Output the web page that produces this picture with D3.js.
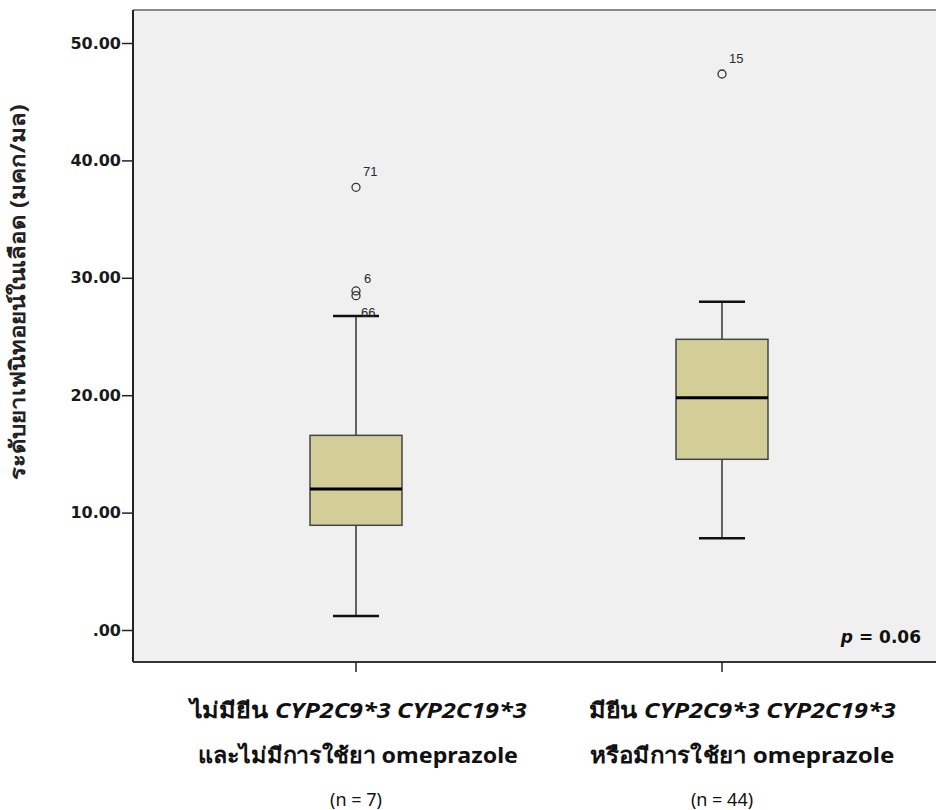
<!DOCTYPE html>
<html>
<head>
<meta charset="utf-8">
<script src="https://cdnjs.cloudflare.com/ajax/libs/d3/7.8.5/d3.min.js"></script>
<style>
  body { margin: 0; background: #fff; }
  svg { display: block; }
</style>
</head>
<body>
<script>
// group keys and box statistics
const groups = ["noVariant", "variant"];
const q1 = [8.92, 14.54];
const medians = [12.01, 19.79];
const q3 = [16.58, 24.76];
const whiskerLow = [1.19, 7.81];
const whiskerHigh = [26.75, 27.96];

const outlierGroup = ["noVariant", "noVariant", "noVariant", "variant"];
const outlierValue = [37.71, 28.88, 28.48, 47.36];
const outlierLabel = ["71", "6", "66", "15"];

const yTicks = [0, 10, 20, 30, 40, 50];

const w = 936;
const h = 810;

const y = d3.scaleLinear()
  .domain([0, 50])
  .range([630, 43]);

const x = d3.scaleBand()
  .domain(groups)
  .range([173, 905]);

const svg = d3.select("body")
  .append("svg")
  .attr("width", w)
  .attr("height", h);

// plot area
const plotLeft = 133, plotTop = 10, plotBottom = 662;
svg.append("rect")
  .attr("x", plotLeft)
  .attr("y", plotTop)
  .attr("width", w - plotLeft + 5)
  .attr("height", plotBottom - plotTop)
  .attr("fill", "#f0f0f0");
svg.append("line")
  .attr("x1", plotLeft).attr("x2", w)
  .attr("y1", plotTop).attr("y2", plotTop)
  .attr("stroke", "#8a8a8a").attr("stroke-width", 2);
svg.append("line")
  .attr("x1", plotLeft).attr("x2", plotLeft)
  .attr("y1", plotTop).attr("y2", plotBottom)
  .attr("stroke", "#222").attr("stroke-width", 2);
svg.append("line")
  .attr("x1", plotLeft).attr("x2", w)
  .attr("y1", plotBottom).attr("y2", plotBottom)
  .attr("stroke", "#333").attr("stroke-width", 2);

// y axis
const yAxis = d3.axisLeft(y)
  .tickValues(yTicks)
  .tickSize(11)
  .tickPadding(1)
  .tickFormat(d => d === 0 ? ".00" : d3.format(".2f")(d));
const ya = svg.append("g")
  .attr("transform", `translate(${plotLeft},0)`)
  .call(yAxis);
ya.select(".domain").remove();
ya.selectAll("line").attr("stroke", "#222").attr("stroke-width", 1.5);
ya.selectAll("text")
  .attr("font-family", "DejaVu Sans, sans-serif")
  .attr("font-weight", "bold")
  .attr("font-size", 16)
  .attr("fill", "#1a1a1a");

// x axis ticks
const xAxis = d3.axisBottom(x).tickSize(10).tickFormat("");
const xa = svg.append("g")
  .attr("transform", `translate(0,${plotBottom})`)
  .call(xAxis);
xa.select(".domain").remove();
xa.selectAll("line").attr("stroke", "#222").attr("stroke-width", 1.5);

// boxes
const bw = 92;
const boxes = svg.append("g");
groups.forEach((g, i) => {
  const cx = x(g) + x.bandwidth() / 2;
  boxes.append("line")
    .attr("x1", cx).attr("x2", cx)
    .attr("y1", y(whiskerLow[i])).attr("y2", y(q1[i]))
    .attr("stroke", "#333").attr("stroke-width", 1.5);
  boxes.append("line")
    .attr("x1", cx).attr("x2", cx)
    .attr("y1", y(whiskerHigh[i])).attr("y2", y(q3[i]))
    .attr("stroke", "#333").attr("stroke-width", 1.5);
  [whiskerLow[i], whiskerHigh[i]].forEach(v => {
    boxes.append("line")
      .attr("x1", cx - bw / 4).attr("x2", cx + bw / 4)
      .attr("y1", y(v)).attr("y2", y(v))
      .attr("stroke", "#111").attr("stroke-width", 2.5);
  });
  boxes.append("rect")
    .attr("x", cx - bw / 2)
    .attr("y", y(q3[i]))
    .attr("width", bw)
    .attr("height", y(q1[i]) - y(q3[i]))
    .attr("fill", "#d3ce97")
    .attr("stroke", "#444")
    .attr("stroke-width", 1.5);
  boxes.append("line")
    .attr("x1", cx - bw / 2).attr("x2", cx + bw / 2)
    .attr("y1", y(medians[i])).attr("y2", y(medians[i]))
    .attr("stroke", "#000").attr("stroke-width", 3);
});

// outliers
const labelOffset = { "71": [7, -11], "6": [8, -8], "66": [5, 21], "15": [7, -11] };
outlierValue.forEach((v, i) => {
  const cx = x(outlierGroup[i]) + x.bandwidth() / 2;
  svg.append("circle")
    .attr("cx", cx).attr("cy", y(v)).attr("r", 4)
    .attr("fill", "none").attr("stroke", "#333").attr("stroke-width", 1.3);
  const off = labelOffset[outlierLabel[i]];
  svg.append("text")
    .attr("x", cx + off[0]).attr("y", y(v) + off[1])
    .attr("font-family", "Liberation Sans, Arial, sans-serif")
    .attr("font-size", 13)
    .attr("fill", "#2a2a2a")
    .text(outlierLabel[i]);
});

// y title
svg.append("text")
  .attr("transform", "translate(25,292) rotate(-90)")
  .attr("text-anchor", "middle")
  .attr("font-family", "Noto Sans, DejaVu Sans, sans-serif")
  .attr("font-weight", "bold")
  .attr("font-size", 21)
  .attr("textLength", 375)
  .attr("lengthAdjust", "spacingAndGlyphs")
  .attr("fill", "#222")
  .text("ระดับยาเฟนิทอยน์ในเลือด (มคก/มล)");

// x category labels
const line1Thai = ["ไม่มียีน ", "มียีน "];
const line1Gene = "CYP2C9*3 CYP2C19*3";
const line2 = ["และไม่มีการใช้ยา omeprazole", "หรือมีการใช้ยา omeprazole"];
const nLabel = ["(n = 7)", "(n = 44)"];
const shift = [2, 20];
const len1 = [337, 307];
const len2 = [320, 305];

groups.forEach((g, i) => {
  const cx = x(g) + x.bandwidth() / 2;
  const t1 = svg.append("text")
    .attr("x", cx + shift[i]).attr("y", 718)
    .attr("text-anchor", "middle")
    .attr("font-family", "Noto Sans, DejaVu Sans, sans-serif")
    .attr("font-weight", "bold")
    .attr("font-size", 22)
    .attr("textLength", len1[i])
    .attr("lengthAdjust", "spacingAndGlyphs")
    .attr("fill", "#111");
  t1.append("tspan").text(line1Thai[i]);
  t1.append("tspan").attr("font-style", "italic").text(line1Gene);
  svg.append("text")
    .attr("x", cx + shift[i]).attr("y", 763)
    .attr("text-anchor", "middle")
    .attr("font-family", "Noto Sans, DejaVu Sans, sans-serif")
    .attr("font-weight", "bold")
    .attr("font-size", 22)
    .attr("textLength", len2[i])
    .attr("lengthAdjust", "spacingAndGlyphs")
    .attr("fill", "#111")
    .text(line2[i]);
  svg.append("text")
    .attr("x", cx).attr("y", 806)
    .attr("text-anchor", "middle")
    .attr("font-family", "Noto Sans, DejaVu Sans, sans-serif")
    .attr("font-size", 18)
    .attr("fill", "#111")
    .text(nLabel[i]);
});

// p value
const pt = svg.append("text")
  .attr("x", 921).attr("y", 643)
  .attr("text-anchor", "end")
  .attr("font-family", "DejaVu Sans, sans-serif")
  .attr("font-weight", "bold")
  .attr("font-size", 17)
  .attr("fill", "#111");
pt.append("tspan").attr("font-style", "italic").text("p");
pt.append("tspan").text(" = 0.06");
</script>
</body>
</html>
